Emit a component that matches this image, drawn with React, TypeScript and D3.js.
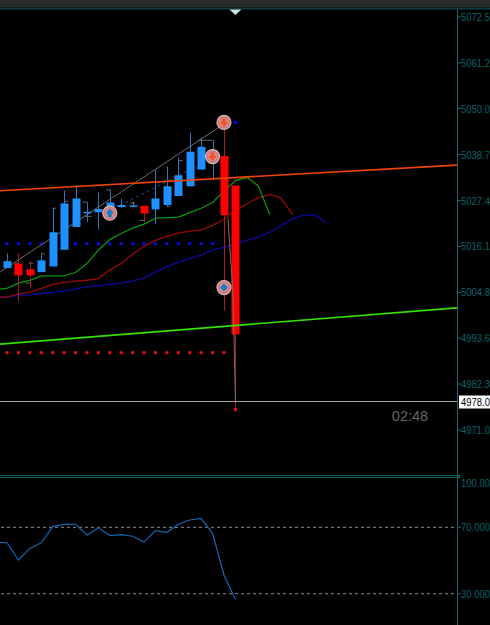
import React from "react";
import * as d3 from "d3";

const W = 490, H = 625;
const priceTicks = [5072.5, 5061.2, 5050.0, 5038.7, 5027.4, 5016.1, 5004.8, 4993.6, 4982.3, 4971.0];
const rsiTicks = [100, 70, 30];
const rsiLabels = ["100.00", "70.000", "30.000"];
const opens = [5010.8, 5011.9, 5010.5, 5009.8, 5011.2, 5015.3, 5020.9, 5024.3, 5024.5, 5025, 5025.8, 5025.9, 5026.1, 5025.2, 5026.3, 5028.5, 5030.9, 5035, 5038.1, 5038.3, 5031.1];
const closes = [5012.5, 5009, 5009, 5012.7, 5019.6, 5026.7, 5027.9, 5024.6, 5025.3, 5026.9, 5026.3, 5026.2, 5024.2, 5027.9, 5030.9, 5033.6, 5039.4, 5040.6, 5039.8, 5023.8, 4994.5];
const highs = [5014.4, 5014.4, 5012.5, 5014.4, 5025.6, 5029.9, 5031.2, 5027, 5029.3, 5029.9, 5027.9, 5027.1, 5026.1, 5035, 5035.8, 5037.9, 5044.1, 5042.8, 5042.2, 5046.6, 5031.1];
const lows = [5010.8, 5002.6, 5005.9, 5009.8, 5011.2, 5015.3, 5020.9, 5022.1, 5020.3, 5025, 5025.5, 5025.8, 5022.1, 5021.7, 5025.8, 5028.5, 5030.9, 5035, 5032.6, 5000.3, 4976];
// moving averages start at bar index -1
const maGreen = [5005.5, 5005.8, 5007.1, 5007.8, 5008.9, 5008.9, 5008.9, 5009.7, 5011.9, 5015.2, 5017.8, 5019.3, 5020.6, 5021.6, 5023, 5023.2, 5023.3, 5024.4, 5025.5, 5026.9, 5029.7, 5032.3, 5033.1, 5031, 5024];
const maRed = [5003.5, 5003.7, 5004.4, 5004.9, 5005.8, 5006.8, 5007.3, 5007.6, 5007.8, 5008.2, 5010.3, 5011.9, 5014.2, 5016.2, 5017.6, 5018.6, 5019.4, 5019.9, 5020.1, 5021.3, 5022.8, 5024.8, 5026.6, 5028, 5028.9, 5028, 5024];
const maBlue = [5003.7, 5003.7, 5004, 5004.2, 5004.5, 5004.8, 5005.2, 5005.7, 5006.2, 5006.5, 5006.8, 5007.1, 5007.6, 5008.3, 5009.8, 5011.2, 5012.2, 5013.2, 5014, 5015.2, 5015.9, 5016.7, 5017.6, 5018.4, 5019.6, 5021.2, 5022.9, 5023.8, 5023.8, 5021.8];
const rsiValues = [61, 60.7, 50.3, 57.3, 60.7, 70.4, 71.8, 71.8, 65.4, 69.8, 65, 65.6, 64.6, 61.1, 68, 67, 71.8, 74.4, 75.4, 66.4, 41.3, 26.6];
const blueDotIdx = d3.range(0, 19);
const blueDotPrice = 5016.8;
const redDotIdx = d3.range(0, 20);
const redDotPrice = 4990;
const currentPrice = 4978;
const orangeTrend: [number, number][] = [[-0.613, 5029.8], [39.4, 5036.1]];
const greenTrend: [number, number][] = [[-0.613, 4992.1], [39.4, 5001]];
const grayTrend: [number, number][] = [[-0.613, 5009.8], [18.83, 5045.9]];
const blueDash: [number, number][] = [[9.9, 5026.2], [16.6, 5035.8]];
const grayDrop: [number, number][] = [[19.35, 5023], [19.8, 5004], [20, 4978]];
// step marks: bar index start, bar index end, price
const stepStart = [0.7, 1.9, 3.0, 4.0, 5.0, 6.6, 6.8, 8.7, 13.0, 14.0, 15.0, 16.7, 1.6, 11.6, 10.8];
const stepEnd = [1.0, 2.3, 3.3, 4.3, 5.4, 7.0, 7.4, 9.1, 13.4, 14.3, 15.4, 18.0, 2.0, 12.0, 11.2];
const stepPrice = [5012, 5012, 5014.3, 5025.5, 5027.2, 5027, 5023.5, 5030, 5032, 5026, 5037.2, 5042.2, 5007.1, 5022.5, 5026.8];
const markerIdx = [9, 18, 19, 19];
const markerPrice = [5024.3, 5038.2, 5046.6, 5006];
const markerDir = ["up", "down", "down", "diamond"];

const x = d3.scaleLinear().domain([0, 20]).range([7, 235.4]);
const y = d3.scaleLinear().domain([5072.5, 4971]).range([17, 430]);
const ry = d3.scaleLinear().domain([70, 30]).range([527.3, 593.7]);
const pline = d3.line<[number, number]>().x((d) => x(d[0])).y((d) => y(d[1]));
const maPath = (vals: number[]) => d3.line<number>().x((_, i) => x(i - 1)).y((d) => y(d)).curve(d3.curveLinear)(vals) as string;
const rsiPath = d3.line<number>().x((_, i) => x(i - 1)).y((d) => ry(d))(rsiValues) as string;

const TEAL = "#1d6468";
const LABEL = "#0a6468";
const FONT = "'Liberation Sans', Arial, sans-serif";

function AxisText({ ty, children, fill = LABEL }: { ty: number; children: string; fill?: string }) {
  return (
    <text transform={`translate(461,${ty + 4}) scale(0.86,1)`} fontFamily={FONT} fontSize={11} fill={fill}>
      {children}
    </text>
  );
}

export default function App() {
  return (
    <svg width={W} height={H} viewBox={`0 0 ${W} ${H}`} style={{ position: "fixed", left: 0, top: 0, background: "#000", display: "block" }}>
      <defs>
        <clipPath id="plot"><rect x={0} y={10} width={457} height={465} /></clipPath>
      </defs>
      <rect width={W} height={H} fill="#000" />
      <rect width={W} height={7} fill="#2b2b2b" />
      <rect y={7.5} width={W} height={2} fill="#123c40" />
      <polygon points={`${x(20) - 6},9.5 ${x(20) + 6},9.5 ${x(20)},15`} fill="#c4e6e8" />

      <g clipPath="url(#plot)">
        {blueDotIdx.map((i) => <rect key={i} x={x(i) - 1.5} y={y(blueDotPrice) - 1.5} width={3} height={3} fill="#0a0ae6" />)}
        {redDotIdx.map((i) => <rect key={i} x={x(i) - 1.5} y={y(redDotPrice) - 1.5} width={3} height={3} fill="#e01010" />)}
        <path d={pline(grayTrend) as string} stroke="#6a6a6a" strokeWidth={1} fill="none" />
        <path d={pline(blueDash) as string} stroke="#1b4f80" strokeWidth={1} strokeDasharray="3,3" fill="none" />
        {stepStart.map((s, i) => (
          <line key={i} x1={x(s)} x2={x(stepEnd[i])} y1={y(stepPrice[i])} y2={y(stepPrice[i])} stroke="#666" strokeWidth={1} />
        ))}
        <path d={maPath(maBlue)} stroke="#0a0aa0" fill="none" strokeWidth={1.3} />
        <path d={maPath(maRed)} stroke="#960a0a" fill="none" strokeWidth={1.3} />
        <path d={maPath(maGreen)} stroke="#0c960c" fill="none" strokeWidth={1.3} />

        {opens.map((o, i) => {
          const c = closes[i];
          const up = c >= o;
          const t = y(Math.max(o, c)), b = y(Math.min(o, c));
          const cx = Math.round(x(i));
          return (
            <g key={i}>
              <line x1={cx + 0.5} x2={cx + 0.5} y1={y(highs[i])} y2={y(lows[i])} stroke={up ? "#2a78be" : "#a81c1c"} strokeWidth={1} />
              <rect x={cx - 3.5} y={t} width={8} height={Math.max(b - t, 1.5)} fill={up ? "#1e90ff" : "#ff0000"} />
            </g>
          );
        })}
        <path d={pline(grayDrop) as string} stroke="#707070" strokeWidth={1} fill="none" />
        <path d={pline(orangeTrend) as string} stroke="#ee4408" strokeWidth={1.7} fill="none" />
        <path d={pline(greenTrend) as string} stroke="#33e000" strokeWidth={1.7} fill="none" />
        <line x1={0} x2={457} y1={y(currentPrice)} y2={y(currentPrice)} stroke="#a8a8a8" strokeWidth={1} />
        <rect x={x(20) - 1.5} y={y(4976) - 1.5} width={3} height={3} fill="#f01010" />
        <rect x={x(20) - 1.5} y={y(5046.6) - 1.5} width={3} height={3} fill="#0a0ae6" />
        {markerIdx.map((m, i) => {
          const cx = x(m), cy = y(markerPrice[i]);
          const dir = markerDir[i];
          const col = dir === "down" ? "#f0542c" : "#1d78c8";
          return (
            <g key={i} transform={`translate(${cx},${cy})`}>
              <circle r={7} fill="#c87878" stroke="#d8b8b8" strokeWidth={1.2} />
              <circle r={5} fill="#d88c8c" />
              {dir === "up" && <path d="M0,-4.5 L4.5,0.5 L2,0.5 L2,4 L-2,4 L-2,0.5 L-4.5,0.5 Z" fill={col} />}
              {dir === "down" && <path d="M0,4.5 L4.5,-0.5 L2,-0.5 L2,-4 L-2,-4 L-2,-0.5 L-4.5,-0.5 Z" fill={col} />}
              {dir === "diamond" && <path d="M0,-4 L4,0 L0,4 L-4,0 Z" fill={col} />}
            </g>
          );
        })}
        <text x={410} y={421} textAnchor="middle" fontFamily={FONT} fontSize={14.5} fill="#6a6460">02:48</text>
      </g>

      {/* RSI pane */}
      <line x1={1} x2={457} y1={ry(70)} y2={ry(70)} stroke="#8c8c8c" strokeDasharray="3,3" />
      <line x1={1} x2={457} y1={ry(30)} y2={ry(30)} stroke="#8c8c8c" strokeDasharray="3,3" />
      <path d={rsiPath} stroke="#1565b0" fill="none" strokeWidth={1.2} />

      {/* frame */}
      <line x1={0} x2={460} y1={475.5} y2={475.5} stroke={TEAL} />
      <line x1={0} x2={460} y1={477.5} y2={477.5} stroke={TEAL} />
      <line x1={457.5} x2={457.5} y1={9} y2={H} stroke={TEAL} />

      {priceTicks.map((t) => (
        <g key={t}>
          <line x1={458} x2={461} y1={y(t)} y2={y(t)} stroke={TEAL} />
          <AxisText ty={y(t)}>{t.toFixed(1)}</AxisText>
        </g>
      ))}
      {rsiTicks.map((t, i) => (
        <g key={t}>
          <line x1={458} x2={461} y1={t === 100 ? 477 : ry(t)} y2={t === 100 ? 477 : ry(t)} stroke={TEAL} />
          <AxisText ty={t === 100 ? 483 : ry(t)}>{rsiLabels[i]}</AxisText>
        </g>
      ))}
      <rect x={459} y={y(currentPrice) - 6} width={31} height={13} fill="#fff" />
      <AxisText ty={y(currentPrice)} fill="#000">{currentPrice.toFixed(1)}</AxisText>
    </svg>
  );
}
